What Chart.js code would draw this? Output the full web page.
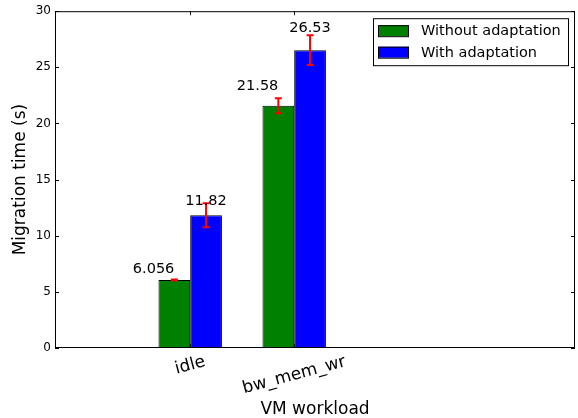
<!DOCTYPE html>
<html>
<head>
<meta charset="utf-8">
<script src="https://cdn.jsdelivr.net/npm/chart.js@4.4.1/dist/chart.umd.min.js"></script>
<style>
body{margin:0;background:#fff;}
#wrap{width:578px;height:418px;}
</style>
</head>
<body>
<div id="wrap"><canvas id="migChart"></canvas></div>
<script>
// values
const workloads = ['idle', 'bw_mem_wr'];
const withoutAdapt = [6.056, 21.58];
const withAdapt = [11.82, 26.53];
const withoutErr = [0.04, 0.67];
const withAdaptErr = [1.07, 1.33];
const yTicks = [0, 5, 10, 15, 20, 25, 30];

const FONT = '"DejaVu Sans", sans-serif';
const barOffset = 0.3; // tick sits between the two bars, like ind + width
const errs = [withoutErr, withAdaptErr];

// error bars, value labels, frame, inward ticks, axis texts and legend
const extras = {
  id: 'extras',
  afterDatasetsDraw(chart) {
    const ctx = chart.ctx;
    const ys = chart.scales.y;
    ctx.save();
    chart.data.datasets.forEach((ds, d) => {
      const meta = chart.getDatasetMeta(d);
      meta.data.forEach((bar, i) => {
        const v = ds.data[i].y;
        const e = errs[d][i];
        const t = ys.getPixelForValue(v + e), b = ys.getPixelForValue(v - e);
        ctx.strokeStyle = '#ff0000';
        ctx.lineWidth = 2;
        ctx.beginPath();
        ctx.moveTo(bar.x, t); ctx.lineTo(bar.x, b);
        ctx.moveTo(bar.x - 3.5, t); ctx.lineTo(bar.x + 3.5, t);
        ctx.moveTo(bar.x - 3.5, b); ctx.lineTo(bar.x + 3.5, b);
        ctx.stroke();
        // value label at 1.05 * height
        ctx.fillStyle = '#000';
        ctx.font = '14.5px ' + FONT;
        ctx.textAlign = d === 0 ? 'right' : 'center';
        ctx.textBaseline = 'alphabetic';
        ctx.fillText(v.toPrecision(4), bar.x, ys.getPixelForValue(v * 1.05) - 3.4);
      });
    });
    ctx.restore();
  },
  afterDraw(chart) {
    const ctx = chart.ctx;
    const a = chart.chartArea;
    const xs = chart.scales.x, ys = chart.scales.y;
    ctx.save();
    ctx.strokeStyle = '#000';
    ctx.lineWidth = 1;
    ctx.strokeRect(a.left + 0.5, a.top + 0.5, a.right - a.left - 1, a.bottom - a.top - 1);
    ctx.beginPath();
    yTicks.forEach(v => {
      const y = Math.round(ys.getPixelForValue(v)) + 0.5;
      ctx.moveTo(a.left, y); ctx.lineTo(a.left + 4, y);
      ctx.moveTo(a.right, y); ctx.lineTo(a.right - 4, y);
    });
    workloads.forEach((w, i) => {
      const x = Math.round(xs.getPixelForValue(i + barOffset)) + 0.5;
      ctx.moveTo(x, a.top); ctx.lineTo(x, a.top + 4);
      ctx.moveTo(x, a.bottom); ctx.lineTo(x, a.bottom - 4);
    });
    ctx.stroke();

    // rotated category labels, centred under the tick
    ctx.fillStyle = '#000';
    ctx.font = '17px ' + FONT;
    ctx.textAlign = 'center';
    ctx.textBaseline = 'middle';
    const rot = 15 * Math.PI / 180;
    workloads.forEach((w, i) => {
      const x = xs.getPixelForValue(i + barOffset);
      const tw = ctx.measureText(w).width;
      const th = 17 * 1.164;
      const cy = a.bottom + 4 + (tw * Math.sin(rot) + th * Math.cos(rot)) / 2;
      ctx.save();
      ctx.translate(x, cy);
      ctx.rotate(-rot);
      ctx.fillText(w, 0, 0);
      ctx.restore();
    });

    // axis titles
    ctx.textBaseline = 'alphabetic';
    ctx.fillText('VM workload', (a.left + a.right) / 2, 414);
    ctx.save();
    ctx.translate(21, (a.top + a.bottom) / 2);
    ctx.rotate(-Math.PI / 2);
    ctx.textBaseline = 'middle';
    ctx.fillText('Migration time (s)', 0, 0);
    ctx.restore();

    // legend box in the upper right corner
    const lx = a.right - 202, ly = a.top + 7, lw = 195, lh = 47;
    ctx.fillStyle = '#fff';
    ctx.fillRect(lx, ly, lw, lh);
    ctx.strokeStyle = '#000';
    ctx.strokeRect(lx + 0.5, ly + 0.5, lw, lh);
    ctx.font = '14.5px ' + FONT;
    ctx.textAlign = 'left';
    ctx.textBaseline = 'middle';
    chart.data.datasets.forEach((ds, d) => {
      const cy = ly + 12.5 + d * 21.5;
      ctx.fillStyle = ds.backgroundColor;
      ctx.fillRect(lx + 5, cy - 5.5, 31, 11);
      ctx.strokeRect(lx + 5.5, cy - 5, 30, 11);
      ctx.fillStyle = '#000';
      ctx.fillText(ds.label, lx + 48, cy + 1);
    });
    ctx.restore();
  }
};

const ctx = document.getElementById('migChart').getContext('2d');

const data = {
  datasets: [{
    label: 'Without adaptation',
    data: withoutAdapt.map((v, i) => ({x: i + barOffset, y: v})),
    backgroundColor: '#008000',
    borderColor: '#000',
    borderWidth: 1,
    borderSkipped: false,
    categoryPercentage: 0.61,
    barPercentage: 1.0
  }, {
    label: 'With adaptation',
    data: withAdapt.map((v, i) => ({x: i + barOffset, y: v})),
    backgroundColor: '#0000ff',
    borderColor: '#000',
    borderWidth: 1,
    borderSkipped: false,
    categoryPercentage: 0.61,
    barPercentage: 1.0
  }]
};

const config = {
  type: 'bar',
  data: data,
  options: {
    responsive: true,
    maintainAspectRatio: false,
    animation: false,
    devicePixelRatio: 1,
    layout: {padding: {top: 11, right: 3, left: 0, bottom: 0}},
    scales: {
      x: {
        type: 'linear',
        min: -1,
        max: 4,
        offset: false,
        grid: {display: false, drawTicks: false},
        border: {display: false},
        ticks: {display: false},
        afterBuildTicks: s => { s.ticks = workloads.map((w, i) => ({value: i + barOffset})); },
        afterFit: s => { s.height = 70; }
      },
      y: {
        min: 0,
        max: 30,
        grid: {display: false, drawTicks: false},
        border: {display: false},
        ticks: {color: '#000', padding: 4, font: {family: FONT, size: 12}},
        afterBuildTicks: s => { s.ticks = yTicks.map(v => ({value: v})); },
        afterFit: s => { s.width = 55; }
      }
    },
    plugins: {
      legend: {display: false},
      tooltip: {enabled: false}
    }
  },
  plugins: [extras]
};

const migChart = new Chart(ctx, config);
</script>
</body>
</html>
